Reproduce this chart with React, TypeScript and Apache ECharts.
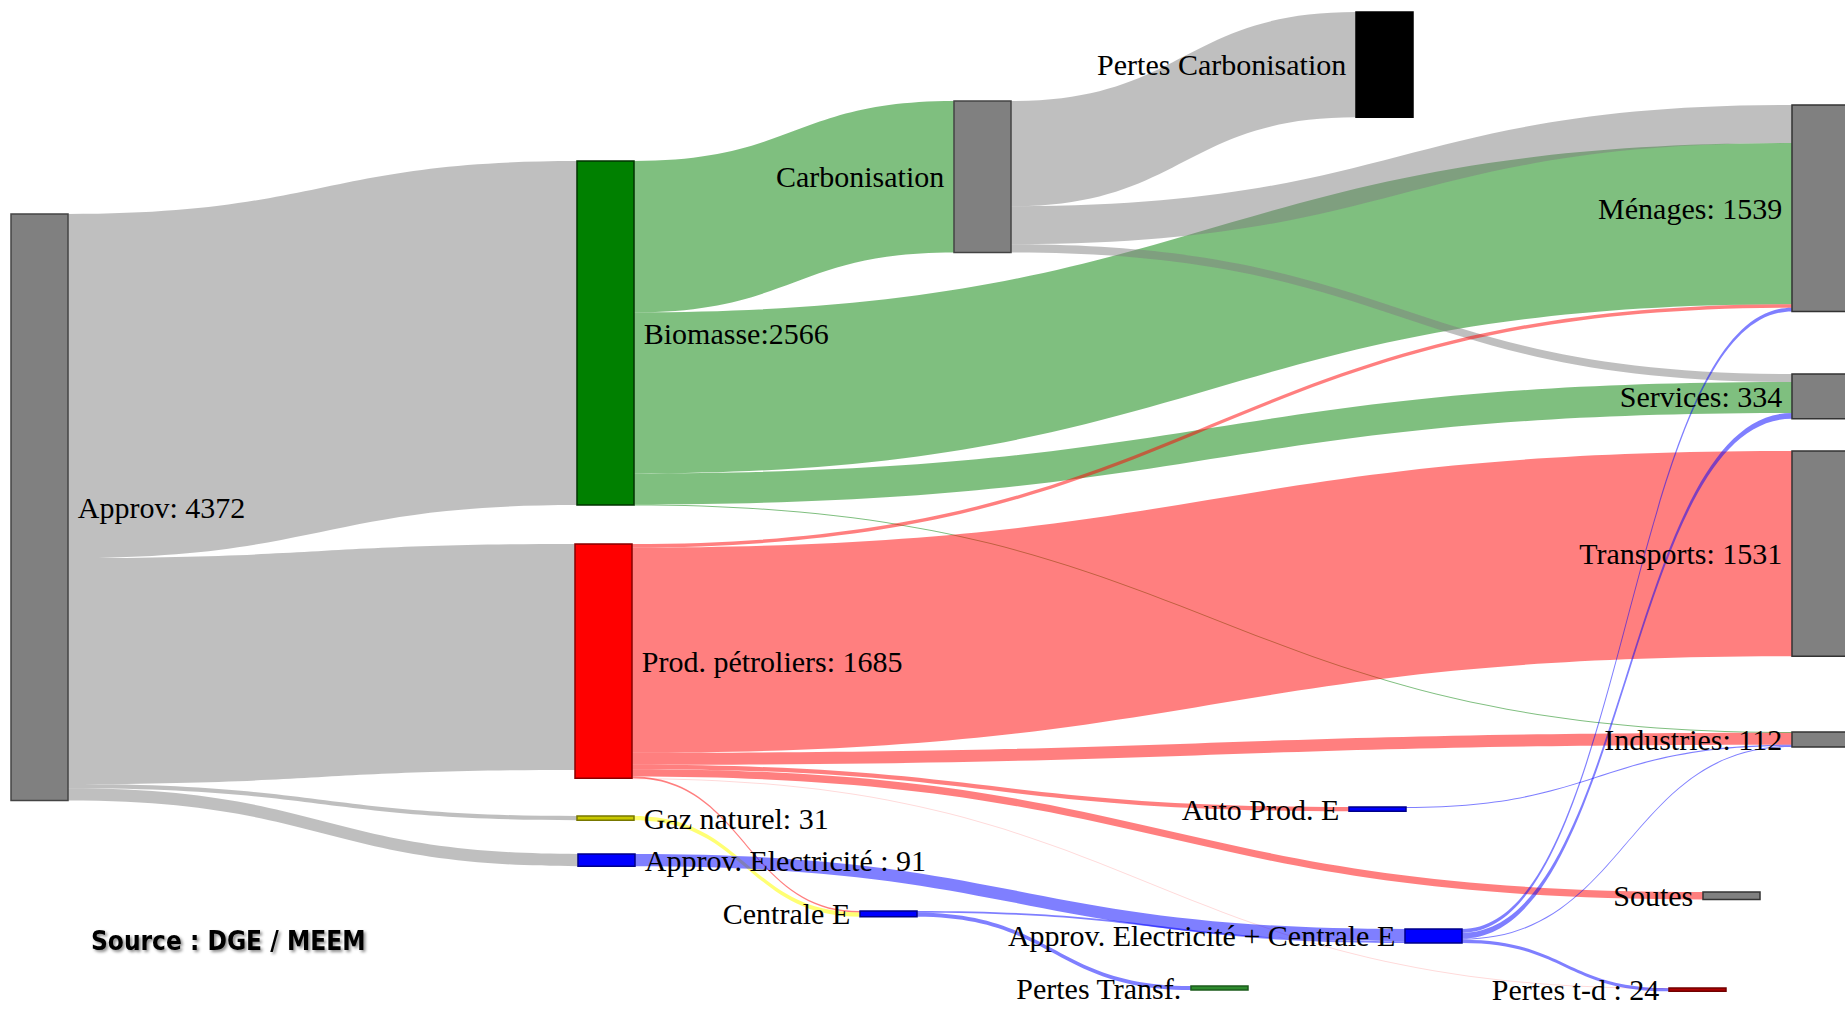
import React, { useEffect, useRef } from 'react';
import * as echarts from 'echarts';

// ---- Data ----
const nodeNames = [
  'Approv: 4372',
  'Pertes Carbonisation',
  'Carbonisation',
  'Biomasse:2566',
  'Prod. pétroliers: 1685',
  'Gaz naturel: 31',
  'Approv. Electricité : 91',
  'Ménages: 1539',
  'Services: 334',
  'Transports: 1531',
  'Industries: 112',
  'Auto Prod. E',
  'Soutes',
  'Centrale E',
  'Approv. Electricité + Centrale E',
  'Pertes Transf.',
  'Pertes t-d : 24',
];

const linkSources = [
  'Approv: 4372', 'Approv: 4372', 'Approv: 4372', 'Approv: 4372',
  'Biomasse:2566', 'Biomasse:2566', 'Biomasse:2566', 'Biomasse:2566',
  'Carbonisation', 'Carbonisation', 'Carbonisation',
  'Prod. pétroliers: 1685', 'Prod. pétroliers: 1685', 'Prod. pétroliers: 1685',
  'Prod. pétroliers: 1685', 'Prod. pétroliers: 1685', 'Prod. pétroliers: 1685',
  'Prod. pétroliers: 1685',
  'Gaz naturel: 31',
  'Approv. Electricité : 91',
  'Centrale E', 'Centrale E',
  'Auto Prod. E',
  'Approv. Electricité + Centrale E', 'Approv. Electricité + Centrale E',
  'Approv. Electricité + Centrale E', 'Approv. Electricité + Centrale E',
];
const linkTargets = [
  'Biomasse:2566', 'Prod. pétroliers: 1685', 'Gaz naturel: 31', 'Approv. Electricité : 91',
  'Carbonisation', 'Ménages: 1539', 'Services: 334', 'Industries: 112',
  'Pertes Carbonisation', 'Ménages: 1539', 'Services: 334',
  'Ménages: 1539', 'Transports: 1531', 'Industries: 112',
  'Auto Prod. E', 'Soutes', 'Centrale E',
  'Pertes t-d : 24',
  'Centrale E',
  'Approv. Electricité + Centrale E',
  'Approv. Electricité + Centrale E', 'Pertes Transf.',
  'Industries: 112',
  'Ménages: 1539', 'Services: 334',
  'Industries: 112', 'Pertes t-d : 24',
];
const linkValues = [
  2566, 1685, 31, 91,
  1129, 1201, 231, 5,
  785, 284, 60,
  26, 1531, 90,
  32, 55, 12,
  1,
  31,
  91,
  13, 30,
  8,
  28, 43,
  9, 24,
];

const sourceText = 'Source : DGE / MEEM';

// ---- Layout & style (not data) ----
const W = 1845;
const KY = 0.1341; // px per unit
const NODE_W = 57;
const nodeLeft = [11, 1356, 954, 577, 575, 577, 578, 1792, 1792, 1792, 1792, 1349, 1703, 860, 1405, 1191, 1669];
const nodeTop = [214, 12, 101, 161, 544, 816, 854, 105, 374, 451, 732, 807, 892, 911, 929, 986, 988];
const nodeColors = [
  '#808080', '#000000', '#808080', '#008000', '#ff0000', '#c8c800', '#0000ff',
  '#808080', '#808080', '#808080', '#808080', '#0000ff', '#808080', '#0000ff',
  '#0000ff', '#2e8b2e', '#b00000',
];
const nodeBorders = [
  '#444444', '#000000', '#444444', '#003300', '#880000', '#777700', '#000088',
  '#333333', '#333333', '#333333', '#333333', '#000088', '#333333', '#000088',
  '#000088', '#1d5c1d', '#700000',
];
const labelSide = [
  'right', 'left', 'left', 'right', 'right', 'right', 'right',
  'left', 'left', 'left', 'left', 'left', 'left', 'left', 'left', 'left', 'left',
];

export default function App() {
  const ref = useRef<HTMLDivElement>(null);
  useEffect(() => {
    const el = ref.current;
    if (!el) return;
    const chart = echarts.init(el, null, { renderer: 'svg' });

    const n = nodeNames.length;
    const inSum = new Array(n).fill(0);
    const outSum = new Array(n).fill(0);
    linkValues.forEach((v, i) => {
      outSum[nodeNames.indexOf(linkSources[i])] += v;
      inSum[nodeNames.indexOf(linkTargets[i])] += v;
    });
    let total = 0;
    for (let i = 0; i < n; i++) total += Math.max(inSum[i], outSum[i]);
    const H = KY * total;

    const data = nodeNames.map((name, i) => ({
      name,
      depth: 0,
      localX: nodeLeft[i] / W,
      localY: nodeTop[i] / H,
      itemStyle: { color: nodeColors[i], borderColor: nodeBorders[i], borderWidth: 1.5 },
      label: { position: labelSide[i] },
    }));

    const links = linkValues.map((v, i) => {
      const l: any = { source: linkSources[i], target: linkTargets[i], value: v };
      if (linkSources[i] === 'Gaz naturel: 31') {
        l.lineStyle = { color: '#ffff00', opacity: 0.55 };
      }
      if (linkSources[i] === 'Prod. pétroliers: 1685' && linkTargets[i] === 'Pertes t-d : 24') {
        l.lineStyle = { opacity: 0.15 };
      }
      return l;
    });

    chart.setOption({
      animation: false,
      backgroundColor: '#ffffff',
      graphic: [
        {
          type: 'text',
          left: 91,
          top: 928,
          style: {
            text: sourceText,
            font: 'bold 26px "DejaVu Sans Condensed", "DejaVu Sans", sans-serif',
            fill: '#000000',
            textShadowColor: 'rgba(0,0,0,0.45)',
            textShadowBlur: 3,
            textShadowOffsetX: 2,
            textShadowOffsetY: 2,
          },
        },
      ],
      series: [
        {
          type: 'sankey',
          left: 0,
          top: 0,
          width: W,
          height: H,
          nodeWidth: NODE_W,
          nodeGap: 0,
          nodeAlign: 'left',
          layoutIterations: 0,
          draggable: false,
          emphasis: { disabled: true },
          data,
          links,
          label: {
            show: true,
            color: '#000000',
            fontFamily: 'Liberation Serif, Times New Roman, serif',
            fontSize: 30,
            distance: 9,
            formatter: '{b}',
          },
          lineStyle: { color: 'source', opacity: 0.5, curveness: 0.5 },
        },
      ],
    });
    return () => chart.dispose();
  }, []);
  return (
    <div
      ref={ref}
      style={{ position: 'absolute', left: 0, top: 0, width: 1845, height: 1010, background: '#fff' }}
    />
  );
}
